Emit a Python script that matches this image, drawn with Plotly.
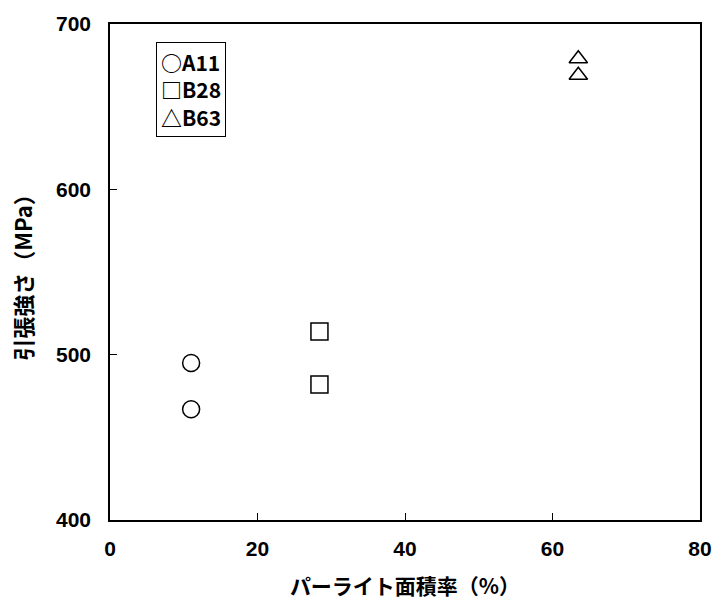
import plotly.graph_objects as go

# Pearlite area fraction (%) vs tensile strength (MPa) for three steels
a11_pearlite = [11.0, 11.0]
a11_strength = [495, 467]
b28_pearlite = [28.4, 28.4]
b28_strength = [514, 482]
b63_pearlite = [63.5, 63.5]
b63_strength = [679, 669]

x_ticks = [0, 20, 40, 60, 80]
y_ticks = [400, 500, 600, 700]

FONT = "Liberation Sans, Noto Sans CJK JP, sans-serif"
CJK = "Noto Sans CJK JP, sans-serif"

fig = go.Figure()

series = [
    ("A11", a11_pearlite, a11_strength, "circle", 17),
    ("B28", b28_pearlite, b28_strength, "square", 17),
    ("B63", b63_pearlite, b63_strength, "triangle-up", 16),
]
for name, xs, ys, sym, size in series:
    fig.add_trace(go.Scatter(
        x=xs, y=ys, mode="markers", name=name, showlegend=False,
        marker=dict(symbol=sym, size=size, color="white",
                    line=dict(color="black", width=1.5)),
    ))

# Boxed key with symbol glyphs
fig.add_annotation(
    xref="paper", yref="paper", x=0.078, y=0.963,
    xanchor="left", yanchor="top", align="left",
    text="<b>○A11<br>□B28<br>△B63</b>",
    showarrow=False, font=dict(family=CJK, size=21, color="black"),
    bordercolor="black", borderwidth=1, borderpad=4, bgcolor="white",
)

fig.update_layout(
    width=724, height=610,
    margin=dict(l=110, r=18, t=18, b=90),
    paper_bgcolor="white", plot_bgcolor="white",
    font=dict(family=FONT, size=21, color="black"),
)
fig.update_xaxes(
    range=[0, 80], tickvals=x_ticks, ticktext=[f"<b>{v}</b>" for v in x_ticks],
    showgrid=False, zeroline=False, showline=True, mirror=True,
    linecolor="black", linewidth=1.5, ticks="inside", ticklen=7,
    tickcolor="black", ticklabelstandoff=9,
    title=dict(text="<b>パーライト面積率（%）</b>", font=dict(family=CJK, size=21), standoff=20),
)
fig.update_yaxes(
    range=[400, 700], tickvals=y_ticks, ticktext=[f"<b>{v}</b>" for v in y_ticks],
    showgrid=False, zeroline=False, showline=True, mirror=True,
    linecolor="black", linewidth=1.5, ticks="inside", ticklen=7,
    tickcolor="black", ticklabelstandoff=13,
    title=dict(text="<b>引張強さ（MPa）</b>", font=dict(family=CJK, size=22), standoff=17),
)

fig.write_html("out.html")
